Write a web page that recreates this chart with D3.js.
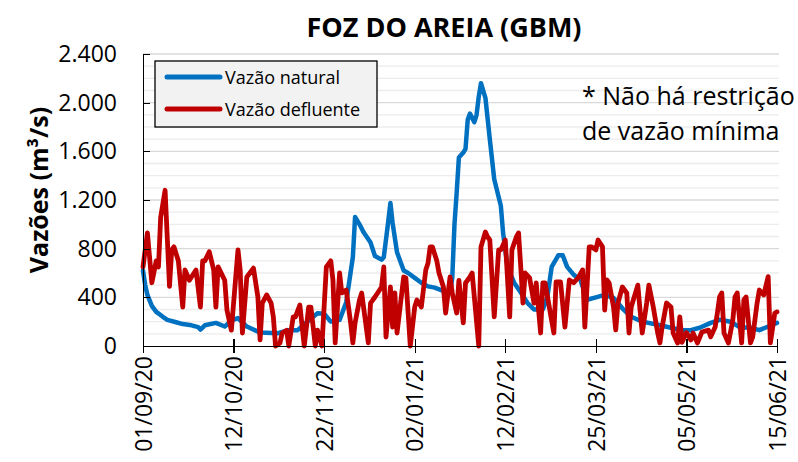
<!DOCTYPE html>
<html lang="pt-BR">
<head>
    <meta charset="UTF-8">
    <title>Foz do Areia (GBM)</title>
    <script src="https://d3js.org/d3.v7.min.js"></script>
    <style>
        body { margin: 0; background: #fff; }
        svg text { font-family: "Open Sans", sans-serif; fill: #000; }
        .axis path, .axis line { stroke: #000; stroke-width: 1.3; shape-rendering: crispEdges; }
        .axis text { font-size: 23px; }
    </style>
</head>
<body>
<svg id="chart" width="798" height="462"></svg>
<script>
    // dia = dias desde 01/09/20 (dados diarios)
    const natDia = [0,1,2,4,6,9,11,15,18,22,25,26,28,33,37,40,43,47,53,61,66,70,75,79,82,85,89,92,95,96,98,100,103,105,108,109,111,112,113,115,118,120,123,126,129,132,135,137,139,140,141,142,143,145,146,147,148,150,151,152,153,155,157,159,162,163,165,168,171,174,177,181,183,185,188,190,192,195,198,201,205,209,213,217,221,226,233,239,244,248,252,257,261,266,270,275,279,283,287];
    const natVal = [620,500,420,330,280,240,215,195,180,170,155,135,170,190,160,210,230,160,110,105,130,130,210,270,265,200,215,360,730,1060,1000,930,850,740,710,730,1020,1175,1010,770,620,600,560,520,490,480,460,440,440,560,1000,1260,1550,1590,1620,1860,1910,1840,1900,2050,2160,2040,1700,1370,1150,930,650,520,440,355,300,300,400,650,745,745,650,585,545,380,400,420,395,310,240,200,175,150,130,130,150,190,215,200,155,150,130,160,190];

    const defDia = [0,2,4,6,7,8,10,12,13,14,16,18,19,21,24,26,27,28,30,32,33,34,37,38,40,42,43,44,45,47,50,52,53,54,56,58,59,60,62,63,65,66,68,69,71,73,75,76,78,79,81,83,85,86,87,89,90,92,94,95,96,98,99,102,103,105,108,109,110,112,113,114,115,118,119,121,123,124,126,128,129,130,131,133,134,136,137,139,140,142,143,145,146,148,149,152,153,155,156,157,159,161,162,164,166,167,169,170,171,172,173,175,177,178,180,181,182,186,187,189,191,193,195,197,199,200,202,203,205,206,208,209,210,211,213,214,215,217,219,220,221,224,225,226,228,229,231,233,234,235,237,239,240,242,243,244,246,248,249,251,253,256,257,259,260,261,262,263,265,267,268,269,271,272,273,275,276,278,279,281,283,284,286,287];
    const defVal = [650,930,520,700,650,1060,1280,490,790,815,700,320,625,540,625,320,700,700,775,625,320,650,540,296,130,570,790,625,107,567,640,403,50,353,420,353,240,0,25,107,130,0,240,240,337,0,320,320,0,130,0,650,700,540,25,600,436,460,190,25,190,378,436,25,353,403,485,650,74,485,156,436,107,567,560,0,320,378,320,625,680,815,815,700,600,485,271,567,436,271,540,190,518,567,600,0,815,937,896,871,240,790,790,871,240,790,896,929,650,353,600,560,353,518,107,518,518,107,527,527,156,543,520,560,625,156,815,815,790,871,815,296,543,518,320,132,353,485,436,107,320,500,296,107,353,500,320,107,25,156,353,320,107,25,240,30,110,50,107,25,115,130,75,156,271,403,436,107,25,214,403,436,25,378,403,25,74,353,460,420,570,25,271,280];

    const rotulosX = ["01/09/20","12/10/20","22/11/20","02/01/21","12/02/21","25/03/21","05/05/21","15/06/21"];
    const ticksY = [0,400,800,1200,1600,2000,2400];
    const gradeMenor = d3.range(100, 2400, 100);
    const series = ["Vazão natural", "Vazão defluente"];
    const cores = ["#0070c0", "#c00000"];

    const margin = {top: 54, right: 21, bottom: 116, left: 143},
        width = 798 - margin.left - margin.right,
        height = 462 - margin.top - margin.bottom;

    const parseData = d3.timeParse("%d/%m/%y");
    const inicio = parseData(rotulosX[0]);
    const dataDe = d => d3.timeDay.offset(inicio, d);

    const x = d3.scaleTime()
        .domain([inicio, parseData(rotulosX[rotulosX.length - 1])])
        .range([0, width]);
    const y = d3.scaleLinear().domain([0, 2400]).range([height, 0]);

    const br = d3.formatLocale({decimal: ",", thousands: ".", grouping: [3], currency: ["R$", ""]});

    const svg = d3.select("#chart");
    const g = svg.append("g")
        .attr("transform", "translate(" + margin.left + "," + margin.top + ")");

    // grade
    g.selectAll(".menor")
        .data(gradeMenor.filter(v => v % 400 !== 0))
        .join("line")
        .attr("x1", 0).attr("x2", width + 2)
        .attr("y1", d => y(d)).attr("y2", d => y(d))
        .attr("stroke", "#ececec").attr("stroke-width", 1.3);
    g.selectAll(".maior")
        .data(ticksY.filter(v => v > 0))
        .join("line")
        .attr("x1", 0).attr("x2", width + 2)
        .attr("y1", d => y(d)).attr("y2", d => y(d))
        .attr("stroke", "#d9d9d9").attr("stroke-width", 1.3);

    const linha = d3.line()
        .x(d => x(dataDe(d[0])))
        .y(d => y(d[1]))
        .curve(d3.curveLinear);

    const natural = natDia.map((d, i) => [d, natVal[i]]);
    const defluente = defDia.map((d, i) => [d, defVal[i]]);

    g.append("path")
        .datum(natural)
        .attr("d", linha)
        .attr("fill", "none")
        .attr("stroke", cores[0])
        .attr("stroke-width", 4.5)
        .attr("stroke-linejoin", "round")
        .attr("stroke-linecap", "round");

    g.append("path")
        .datum(defluente)
        .attr("d", linha)
        .attr("fill", "none")
        .attr("stroke", cores[1])
        .attr("stroke-width", 4.8)
        .attr("stroke-linejoin", "round")
        .attr("stroke-linecap", "round");

    // eixos
    const yAxis = d3.axisLeft(y)
        .tickValues(ticksY)
        .tickFormat(br.format(",d"))
        .tickSizeInner(-7)
        .tickSizeOuter(0)
        .tickPadding(26);
    g.append("g").attr("class", "axis").call(yAxis);

    const xAxis = d3.axisBottom(x)
        .tickValues(rotulosX.map(parseData))
        .tickFormat(d3.timeFormat("%d/%m/%y"))
        .tickSizeInner(7)
        .tickSizeOuter(0);
    const gx = g.append("g")
        .attr("class", "axis")
        .attr("transform", "translate(0," + height + ")")
        .call(xAxis);
    gx.selectAll(".tick line").attr("y1", -7).attr("y2", 7);
    gx.selectAll(".tick text")
        .attr("transform", "rotate(-90)")
        .attr("text-anchor", "end")
        .attr("x", -10)
        .attr("y", 0)
        .attr("dy", "0.36em");

    // titulo e rotulo
    svg.append("text")
        .attr("x", 444).attr("y", 37)
        .attr("text-anchor", "middle")
        .style("font-size", "27px").style("font-weight", "bold")
        .text("FOZ DO AREIA (GBM)");

    svg.append("text")
        .attr("transform", "translate(48,190) rotate(-90)")
        .attr("text-anchor", "middle")
        .style("font-size", "25px").style("font-weight", "bold")
        .text("Vazões (m³/s)");

    // legenda
    const leg = svg.append("g").attr("transform", "translate(155,61)");
    leg.append("rect")
        .attr("width", 222).attr("height", 66)
        .attr("fill", "#f2f2f2").attr("stroke", "#000").attr("stroke-width", 1.3);
    series.forEach((s, i) => {
        const ly = 16 + i * 32;
        leg.append("line")
            .attr("x1", 12).attr("x2", 65)
            .attr("y1", ly).attr("y2", ly)
            .attr("stroke", cores[i]).attr("stroke-width", 5).attr("stroke-linecap", "round");
        leg.append("text")
            .attr("x", 70).attr("y", ly + 7)
            .style("font-size", "18px")
            .text(s);
    });

    // nota
    const nota = svg.append("text").style("font-size", "25px");
    nota.append("tspan").attr("x", 582).attr("y", 105).text("* Não há restrição");
    nota.append("tspan").attr("x", 582).attr("y", 140).text("de vazão mínima");
</script>
</body>
</html>
